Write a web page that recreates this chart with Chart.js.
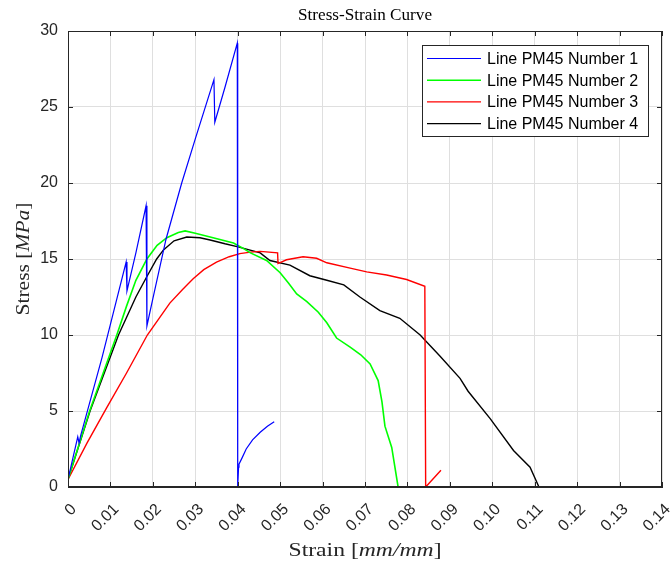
<!DOCTYPE html>
<html>
<head>
<meta charset="utf-8">
<title>Stress-Strain Curve</title>
<script src="https://cdn.jsdelivr.net/npm/chart.js@4.4.0/dist/chart.umd.min.js"></script>
<style>
    html, body { margin: 0; padding: 0; background: #ffffff; }
    #wrap { width: 671px; height: 563px; }
</style>
</head>
<body>
<div id="wrap"><canvas id="stress-strain-chart" width="671" height="563"></canvas></div>
<script>
// 坐标轴刻度
const xTicks = [0, 0.01, 0.02, 0.03, 0.04, 0.05, 0.06, 0.07, 0.08, 0.09, 0.10, 0.11, 0.12, 0.13, 0.14];
const yTicks = [0, 5, 10, 15, 20, 25, 30];

// 图例名称
const seriesNames = ['Line PM45 Number 1', 'Line PM45 Number 2', 'Line PM45 Number 3', 'Line PM45 Number 4'];
const seriesColors = ['#0000ff', '#00ff00', '#ff0000', '#000000'];

// Line 1 (blue)
const strain1 = [0, 0.0023, 0.0026, 0.0030, 0.0080, 0.0137, 0.0139, 0.0160, 0.0184, 0.0186, 0.0200, 0.0231, 0.0268, 0.0300,
    0.0344, 0.0346, 0.0370, 0.0399, 0.0400, 0.0402, 0.0403, 0.0410, 0.0420, 0.0435, 0.0453, 0.0470, 0.0486];
const stress1 = [0.5, 3.3, 2.9, 3.4, 8.5, 14.8, 12.9, 15.4, 18.5, 10.6, 12.4, 16.3, 20.0, 22.9,
    26.8, 24.0, 26.3, 29.2, 0, 1.3, 1.5, 1.9, 2.5, 3.1, 3.6, 4.0, 4.3];

// Line 2 (green)
const strain2 = [0, 0.0051, 0.0115, 0.0138, 0.0160, 0.0186, 0.0210, 0.0233, 0.0260, 0.0276, 0.0300, 0.0335, 0.0390, 0.0413,
    0.0430, 0.0468, 0.0500, 0.0520, 0.0539, 0.0563, 0.0590, 0.0610, 0.0633, 0.0665, 0.0690, 0.0712, 0.0731, 0.0740,
    0.0747, 0.0763, 0.0778];
const stress2 = [0.5, 5.0, 10.0, 11.9, 13.6, 15.0, 15.9, 16.4, 16.75, 16.85, 16.7, 16.45, 16.05, 15.7,
    15.4, 14.9, 14.1, 13.4, 12.7, 12.2, 11.5, 10.8, 9.8, 9.2, 8.7, 8.1, 7.0, 5.6,
    4.0, 2.6, 0];

// Line 3 (red)
const strain3 = [0, 0.0045, 0.0091, 0.0138, 0.0187, 0.0240, 0.0270, 0.0295, 0.0320, 0.0350, 0.0380, 0.0405, 0.0430, 0.0453,
    0.0494, 0.0495, 0.0515, 0.0554, 0.0586, 0.0610, 0.0665, 0.0704, 0.0751, 0.0798, 0.0841, 0.0843, 0.0879];
const stress3 = [0.5, 2.9, 5.2, 7.5, 10.0, 12.1, 13.0, 13.7, 14.3, 14.8, 15.15, 15.35, 15.45, 15.5,
    15.4, 14.7, 14.95, 15.15, 15.05, 14.75, 14.4, 14.15, 13.95, 13.65, 13.2, 0, 1.1];

// Line 4 (black)
const strain4 = [0, 0.0052, 0.0119, 0.0160, 0.0185, 0.0209, 0.0225, 0.0250, 0.0280, 0.0311, 0.0335, 0.0370, 0.0401, 0.0453,
    0.0476, 0.0523, 0.0570, 0.0610, 0.0650, 0.0688, 0.0735, 0.0782, 0.0830, 0.0877, 0.0924, 0.0943, 0.0995, 0.1050,
    0.1089, 0.1110];
const stress4 = [0.5, 5.0, 10.0, 12.5, 13.8, 15.0, 15.6, 16.2, 16.45, 16.4, 16.25, 16.0, 15.8, 15.4,
    14.9, 14.6, 13.9, 13.6, 13.3, 12.5, 11.6, 11.1, 10.0, 8.6, 7.15, 6.3, 4.5, 2.4,
    1.3, 0];

const axisColor = '#262626';
const gridColor = '#dfdfdf';
const sansFont = '"Liberation Sans", Arial, sans-serif';
const serifFont = '"Liberation Serif", "DejaVu Serif", serif';

// 组合成点
function toPoints(xs, ys) {
    return xs.map((x, i) => ({ x: x, y: ys[i] }));
}

// 画混合字体的文字（正体 + 斜体），拉伸到目标宽度
function drawMixedText(ctx, parts, cx, cy, size, targetWidth) {
    let total = 0;
    parts.forEach(p => {
        ctx.font = (p.italic ? 'italic ' : '') + size + 'px ' + serifFont;
        p.w = ctx.measureText(p.text).width;
        total += p.w;
    });
    const k = targetWidth ? targetWidth / total : 1;
    ctx.save();
    ctx.translate(cx, cy);
    ctx.scale(k, 1);
    let x = -total / 2;
    parts.forEach(p => {
        ctx.font = (p.italic ? 'italic ' : '') + size + 'px ' + serifFont;
        ctx.fillText(p.text, x, 0);
        x += p.w;
    });
    ctx.restore();
}

// MATLAB 风格：边框、内刻度、标题、图例
const matlabFrame = {
    id: 'matlabFrame',
    afterDraw(chart) {
        const ctx = chart.ctx;
        const a = chart.chartArea;
        const xs = chart.scales.x;
        const ys = chart.scales.y;
        ctx.save();

        // 边框
        ctx.strokeStyle = axisColor;
        ctx.lineWidth = 1;
        ctx.strokeRect(Math.round(a.left) + 0.5, Math.round(a.top) + 0.5,
            Math.round(a.right - a.left) - 1, Math.round(a.bottom - a.top) - 1);

        // 内刻度
        ctx.beginPath();
        xTicks.forEach(v => {
            const px = Math.round(xs.getPixelForValue(v)) + 0.5;
            ctx.moveTo(px, a.bottom); ctx.lineTo(px, a.bottom - 5);
            ctx.moveTo(px, a.top); ctx.lineTo(px, a.top + 5);
        });
        yTicks.forEach(v => {
            const py = Math.round(ys.getPixelForValue(v)) + 0.5;
            ctx.moveTo(a.left, py); ctx.lineTo(a.left + 5, py);
            ctx.moveTo(a.right, py); ctx.lineTo(a.right - 5, py);
        });
        ctx.stroke();

        // 标题
        ctx.fillStyle = '#000000';
        ctx.textAlign = 'left';
        ctx.textBaseline = 'alphabetic';
        const cx = (a.left + a.right) / 2;
        drawMixedText(ctx, [{ text: 'Stress-Strain Curve' }], cx, 20, 17, 134);

        // x 轴标题
        ctx.fillStyle = '#262626';
        drawMixedText(ctx, [{ text: 'Strain [' }, { text: 'mm/mm', italic: true }, { text: ']' }], cx, 556, 18, 153);

        // y 轴标题
        ctx.save();
        ctx.translate(29, (a.top + a.bottom) / 2);
        ctx.rotate(-Math.PI / 2);
        drawMixedText(ctx, [{ text: 'Stress [' }, { text: 'MPa', italic: true }, { text: ']' }], 0, 0, 18, 113);
        ctx.restore();

        // 图例
        const box = { left: 422, top: 45, right: 648, bottom: 136 };
        ctx.fillStyle = '#ffffff';
        ctx.fillRect(box.left, box.top, box.right - box.left, box.bottom - box.top);
        ctx.strokeStyle = axisColor;
        ctx.strokeRect(box.left + 0.5, box.top + 0.5, box.right - box.left, box.bottom - box.top);
        ctx.font = '16px ' + sansFont;
        ctx.textBaseline = 'middle';
        chart.data.datasets.forEach((ds, i) => {
            const yy = 58.5 + i * 21.7;
            ctx.strokeStyle = ds.borderColor;
            ctx.lineWidth = ds.borderWidth;
            ctx.beginPath();
            ctx.moveTo(427, yy); ctx.lineTo(481, yy);
            ctx.stroke();
            ctx.fillStyle = '#000000';
            ctx.fillText(ds.label, 487, yy + 1);
        });

        ctx.restore();
    }
};

const datasets = [
    { label: seriesNames[0], data: toPoints(strain1, stress1), borderColor: seriesColors[0], borderWidth: 1.2 },
    { label: seriesNames[1], data: toPoints(strain2, stress2), borderColor: seriesColors[1], borderWidth: 1.6 },
    { label: seriesNames[2], data: toPoints(strain3, stress3), borderColor: seriesColors[2], borderWidth: 1.4 },
    { label: seriesNames[3], data: toPoints(strain4, stress4), borderColor: seriesColors[3], borderWidth: 1.4 }
].map(ds => Object.assign(ds, { showLine: true, pointRadius: 0, fill: false, tension: 0 }));

const ctx = document.getElementById('stress-strain-chart').getContext('2d');
const chart = new Chart(ctx, {
    type: 'scatter',
    data: { datasets: datasets },
    options: {
        responsive: false,
        animation: false,
        layout: { padding: { top: 31, right: 9, left: 0, bottom: 0 } },
        plugins: {
            legend: { display: false },
            tooltip: { enabled: false }
        },
        scales: {
            x: {
                type: 'linear',
                min: 0,
                max: 0.14,
                afterBuildTicks: scale => { scale.ticks = xTicks.map(v => ({ value: v })); },
                afterFit: scale => {
                    scale.height = 76;
                    scale.paddingLeft = 0;
                    scale.paddingRight = 0;
                },
                grid: { color: gridColor, drawTicks: false },
                border: { color: axisColor },
                ticks: {
                    autoSkip: false,
                    maxRotation: 45,
                    minRotation: 45,
                    padding: 13,
                    labelOffset: 6,
                    color: '#262626',
                    font: { family: sansFont, size: 16 },
                    callback: v => v === 0 ? '0' : v.toFixed(2)
                }
            },
            y: {
                type: 'linear',
                min: 0,
                max: 30,
                afterBuildTicks: scale => { scale.ticks = yTicks.map(v => ({ value: v })); },
                afterFit: scale => {
                    scale.width = 68;
                    scale.paddingTop = 0;
                    scale.paddingBottom = 0;
                },
                grid: { color: gridColor, drawTicks: false },
                border: { color: axisColor },
                ticks: {
                    padding: 10,
                    color: '#262626',
                    font: { family: sansFont, size: 16 }
                }
            }
        }
    },
    plugins: [matlabFrame]
});
</script>
</body>
</html>
